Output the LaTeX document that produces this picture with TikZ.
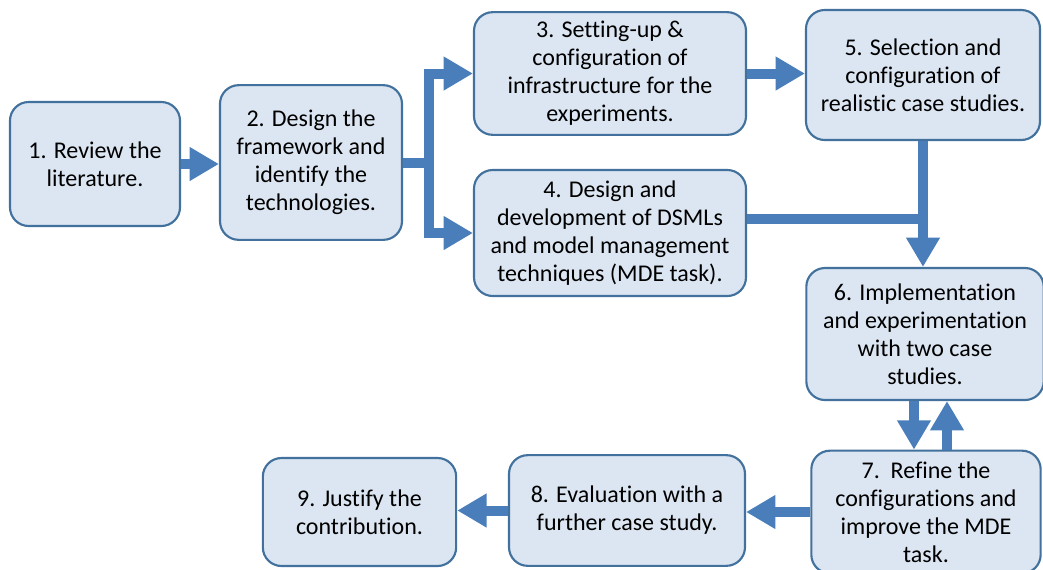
\documentclass[tikz,border=0pt]{standalone}
\usepackage{fontspec}
\setmainfont{Carlito}[Ligatures=NoCommon]
\usetikzlibrary{arrows.meta}
\definecolor{boxfill}{HTML}{DCE6F2}
\definecolor{boxline}{HTML}{41719C}
\definecolor{flowblue}{HTML}{4A7EBB}
\begin{document}
\begin{tikzpicture}[x=0.75pt, y=-0.75pt,
  stage/.style={shape=rectangle, rounded corners=14pt, draw=boxline, line width=1.6pt, fill=boxfill, align=center, inner sep=0pt, font=\fontsize{18pt}{21pt}\selectfont},
  flowline/.style={draw=flowblue, line width=7.5pt},
  flow/.style={flowline, -{Triangle[width=24pt, length=22pt]}}]
\useasboundingbox (0,0) rectangle (1043,569);
\node[stage, minimum width=127.5pt, minimum height=93pt] (s1) at (95,164) {1. Review the\\literature.};
\node[stage, minimum width=136.5pt, minimum height=116pt] (s2) at (311,162.5) {2. Design the\\framework and\\identify the\\technologies.};
\node[stage, minimum width=204pt, minimum height=92pt] (s3) at (610,73.5) {3. Setting-up \&\\configuration of\\infrastructure for the\\experiments.};
\node[stage, minimum width=204pt, minimum height=94.5pt] (s4) at (610,233) {4. Design and\\development of DSMLs\\and model management\\techniques (MDE task).};
\node[stage, minimum width=175.5pt, minimum height=97.5pt] (s5) at (923,75) {5. Selection and\\configuration of\\realistic case studies.};
\node[stage, minimum width=178pt, minimum height=99pt] (s6) at (925,334) {6. Implementation\\and experimentation\\with two case\\studies.};
\node[stage, minimum width=172pt, minimum height=92pt] (s7) at (926,512) {7.\ \ Refine the\\configurations and\\improve the MDE\\task.};
\node[stage, minimum width=177pt, minimum height=83pt] (s8) at (627,510.5) {8. Evaluation with a\\further case study.};
\node[stage, minimum width=145pt, minimum height=81pt] (s9) at (359.5,512) {9. Justify the\\contribution.};
\coordinate (fork) at (429,163);
\coordinate (join) at (923,219);
\draw[flow] (s1.east) -- (s1.east -| s2.west);
\draw[flowline] (s2.east |- fork) -- (fork);
\draw[flow] (fork) |- (s3.west);
\draw[flow] (fork) |- (s4.west);
\draw[flow] (s3.east) -- (s3.east -| s5.west);
\draw[flowline] (s4.east |- join) -- (join);
\draw[flow] (s5.south) -- (s5.south |- s6.north);
\draw[flow] ([xshift=-8.25pt]s6.south) -- ([xshift=-8.25pt]s6.south |- s7.north);
\draw[flow] ([xshift=15.75pt]s7.north) -- ([xshift=15.75pt]s7.north |- s6.south);
\draw[flow] (s7.west) -- (s7.west -| s8.east);
\draw[flow] (s8.west) -- (s8.west -| s9.east);
\end{tikzpicture}
\end{document}
